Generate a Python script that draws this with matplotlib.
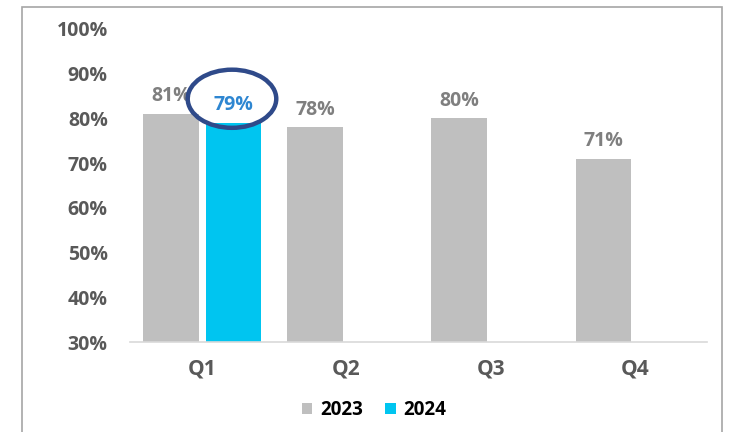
import matplotlib.pyplot as plt
import numpy as np
from matplotlib.patches import Ellipse, Rectangle

quarters = ['Q1', 'Q2', 'Q3', 'Q4']
vals_2023 = [0.81, 0.78, 0.80, 0.71]
vals_2024 = [0.79]  # only Q1 reported so far

plt.rcParams['font.family'] = ['Open Sans', 'DejaVu Sans']

fig = plt.figure(figsize=(7.29, 4.32), dpi=100)
# outer frame of the chart box
fig.patches.append(Rectangle((22 / 729, -0.05), 700 / 729, 1 - 7 / 432 + 0.05,
                             transform=fig.transFigure, fill=False,
                             edgecolor='#A6A6A6', linewidth=1.2))

ax = fig.add_axes([130 / 729, 1 - 342 / 432, 577 / 729, (342 - 29) / 432])

x = np.arange(len(quarters))
w = 0.386
gap = 0.048
off = (w + gap) / 2

c23 = '#BFBFBF'
c24 = '#00C5F0'
ax.bar(x - off, vals_2023, w, color=c23, label='2023')
ax.bar(x[:len(vals_2024)] + off, vals_2024, w, color=c24, label='2024')

for xi, v in zip(x - off, vals_2023):
    ax.text(xi, v + 0.017, f'{v * 100:.0f}%', ha='center', va='bottom',
            fontsize=14, fontweight='bold', color='#7F7F7F')
for xi, v in zip(x[:len(vals_2024)] + off, vals_2024):
    ax.text(xi, v + 0.017, f'{v * 100:.0f}%', ha='center', va='bottom',
            fontsize=14, fontweight='bold', color='#2E86D1')
    ax.add_patch(Ellipse((xi - 0.01, vals_2024[0] + 0.054), 0.614, 0.13,
                         fill=False, edgecolor='#2F4A8A', linewidth=3.2,
                         clip_on=False, zorder=5))

ax.set_xlim(-0.5, 3.5)
ax.set_ylim(0.3, 1.0)
ax.set_yticks(np.arange(0.3, 1.01, 0.1))
ax.set_yticklabels([f'{t * 100:.0f}%' for t in np.arange(0.3, 1.01, 0.1)])
ax.set_xticks(x)
ax.set_xticklabels(quarters)

for s in ['top', 'right', 'left']:
    ax.spines[s].set_visible(False)
ax.spines['bottom'].set_color('#D9D9D9')
ax.spines['bottom'].set_linewidth(1.2)
ax.tick_params(axis='y', length=0, labelsize=14, labelcolor='#595959', pad=16)
ax.tick_params(axis='x', length=0, labelsize=15, labelcolor='#595959', pad=12)
for lbl in ax.get_xticklabels() + ax.get_yticklabels():
    lbl.set_fontweight('bold')

leg = fig.legend(loc='center', bbox_to_anchor=(374 / 729, 1 - 410 / 432), ncol=2,
                 frameon=False, handlelength=0.55, handleheight=0.55,
                 handletextpad=0.4, columnspacing=1.2,
                 prop={'weight': 'bold', 'size': 13.5})
for t in leg.get_texts():
    t.set_color('#000000')

fig.savefig('out.png', dpi=100, facecolor='white')
